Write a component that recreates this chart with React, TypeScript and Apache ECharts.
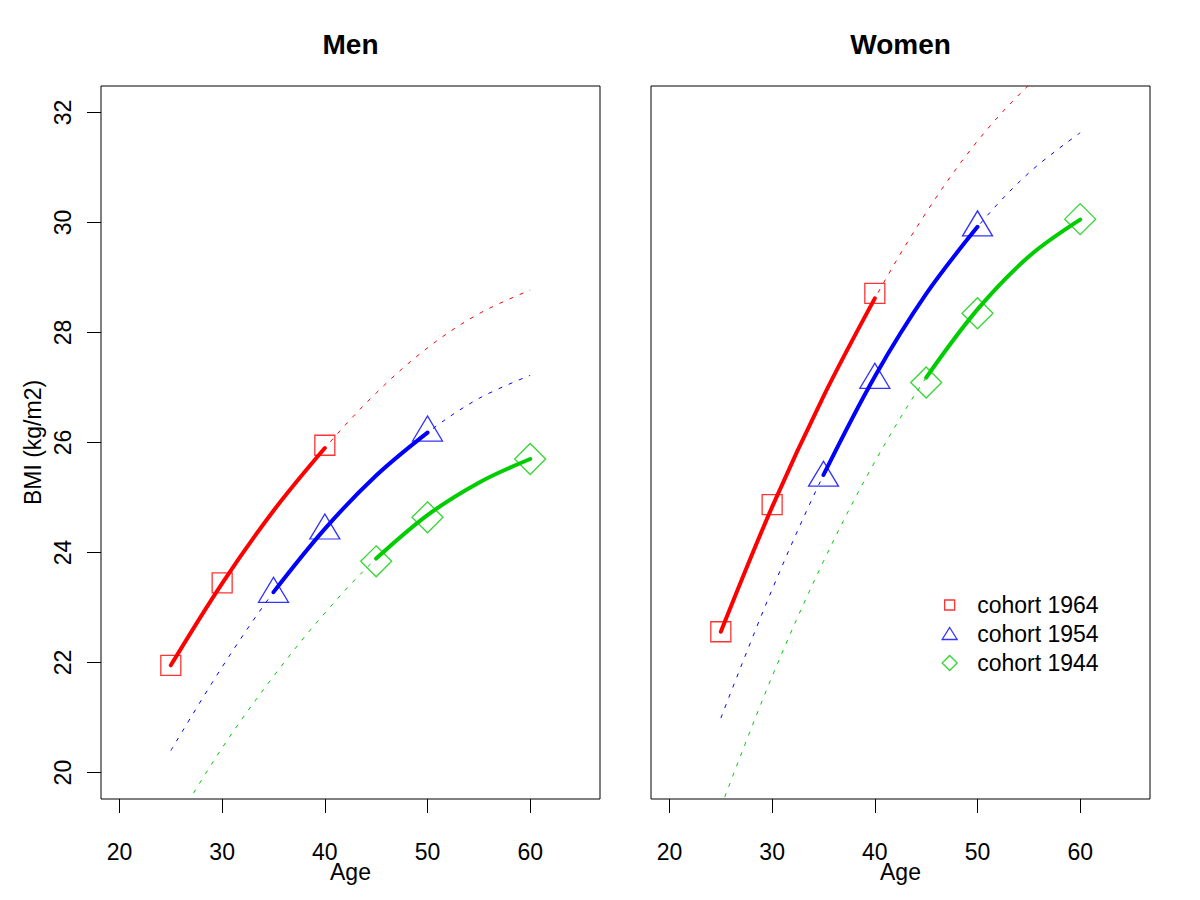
import React, { useEffect, useRef } from "react";
import * as echarts from "echarts";

// ---- data ----
const AGES = [25, 30, 35, 40, 45, 50, 55, 60];
const COHORTS = ["cohort 1964", "cohort 1954", "cohort 1944"];
const PANELS = ["Men", "Women"];

const X_TICKS = [20, 30, 40, 50, 60];
const Y_TICKS = [20, 22, 24, 26, 28, 30, 32];

// observed ages per cohort
const OBS_AGES_1964 = [25, 30, 40];
const OBS_AGES_1954 = [35, 40, 50];
const OBS_AGES_1944 = [45, 50, 60];

// observed BMI
const MEN_OBS_1964 = [21.95, 23.45, 25.95];
const MEN_OBS_1954 = [23.25, 24.4, 26.18];
const MEN_OBS_1944 = [23.84, 24.64, 25.7];
const WOMEN_OBS_1964 = [22.56, 24.87, 28.71];
const WOMEN_OBS_1954 = [25.36, 27.14, 29.91];
const WOMEN_OBS_1944 = [27.09, 28.35, 30.06];

// fitted curves at AGES
const MEN_FIT_1964 = [21.95, 23.44, 24.76, 25.9, 26.9, 27.72, 28.34, 28.77];
const MEN_FIT_1954 = [20.4, 21.92, 23.28, 24.43, 25.4, 26.18, 26.8, 27.22];
const MEN_FIT_1944 = [18.95, 20.45, 21.75, 22.9, 23.89, 24.68, 25.27, 25.7];
const WOMEN_FIT_1964 = [22.56, 24.83, 26.84, 28.62, 30.18, 31.48, 32.5, 33.31];
const WOMEN_FIT_1954 = [20.99, 23.33, 25.41, 27.2, 28.7, 29.92, 30.9, 31.63];
const WOMEN_FIT_1944 = [19.37, 21.75, 23.84, 25.65, 27.18, 28.42, 29.38, 30.05];

// ---- styling ----
const FONT = "'Liberation Sans', Arial, Helvetica, sans-serif";
const COLORS = ["#FF0000", "#0000FF", "#00CD00"];
const SYMBOLS = ["rect", "triangle", "diamond"];
const SYMBOL_SIZES = [
  [20, 20],
  [30, 25],
  [31, 31],
];
const SYMBOL_OFFSETS = [
  [0, 0],
  [0, -4],
  [0, 0],
];
const LEGEND_ICONS = [
  "path://M0,0L0,0M2.5,2.5L12.5,2.5L12.5,12.5L2.5,12.5ZM15,15L15,15",
  "path://M0,0L0,0M7.5,1L15,13L0,13ZM15,15L15,15",
  "path://M7.5,0L15,7.5L7.5,15L0,7.5Z",
];

const OBS_AGES = [OBS_AGES_1964, OBS_AGES_1954, OBS_AGES_1944];
const OBS = [
  [MEN_OBS_1964, MEN_OBS_1954, MEN_OBS_1944],
  [WOMEN_OBS_1964, WOMEN_OBS_1954, WOMEN_OBS_1944],
];
const FITS = [
  [MEN_FIT_1964, MEN_FIT_1954, MEN_FIT_1944],
  [WOMEN_FIT_1964, WOMEN_FIT_1954, WOMEN_FIT_1944],
];

const X_MIN = 18.2;
const X_MAX = 66.8;
const Y_MIN = 19.52;
const Y_MAX = 32.48;

export default function App() {
  const ref = useRef<HTMLDivElement>(null);

  useEffect(() => {
    document.body.style.margin = "0";
    const chart = echarts.init(ref.current!, undefined, { renderer: "svg" });

    const gridLefts = [101, 651];

    const series: any[] = [];
    PANELS.forEach((_, p) => {
      COHORTS.forEach((name, c) => {
        const fit = FITS[p][c];
        const obsAges = OBS_AGES[c];
        const lo = Math.min(...obsAges);
        const hi = Math.max(...obsAges);
        series.push({
          type: "line",
          name: name + " fit " + p,
          xAxisIndex: p,
          yAxisIndex: p,
          data: AGES.map((a, i) => [a, fit[i]]),
          smooth: 0.35,
          showSymbol: false,
          silent: true,
          clip: true,
          lineStyle: { color: COLORS[c], width: 1, type: [4, 7] },
          z: 2,
        });
        series.push({
          type: "line",
          name: name + " solid " + p,
          xAxisIndex: p,
          yAxisIndex: p,
          data: AGES.map((a, i) => [a, fit[i]]).filter((d) => d[0] >= lo && d[0] <= hi),
          smooth: 0.35,
          showSymbol: false,
          silent: true,
          clip: true,
          lineStyle: { color: COLORS[c], width: 4, cap: "round" },
          z: 3,
        });
        series.push({
          type: "scatter",
          name,
          xAxisIndex: p,
          yAxisIndex: p,
          data: obsAges.map((a, i) => [a, OBS[p][c][i]]),
          symbol: SYMBOLS[c],
          symbolSize: SYMBOL_SIZES[c],
          symbolOffset: SYMBOL_OFFSETS[c],
          itemStyle: { color: "transparent", borderColor: COLORS[c], borderWidth: 1.3 },
          z: 4,
        });
      });
    });

    const option: any = {
      animation: false,
      backgroundColor: "#fff",
      textStyle: { fontFamily: FONT },
      grid: gridLefts.map((l) => ({
        left: l,
        top: 86,
        width: 499,
        height: 713,
        show: true,
        borderColor: "#000",
        borderWidth: 1,
        backgroundColor: "transparent",
      })),
      xAxis: PANELS.map((_, p) => ({
        type: "value",
        gridIndex: p,
        min: X_MIN,
        max: X_MAX,
        name: "Age",
        nameLocation: "middle",
        nameGap: 61,
        nameMoveOverlap: false,
        nameTextStyle: { fontSize: 23, color: "#000", fontFamily: FONT },
        axisLine: { show: false },
        splitLine: { show: false },
        axisTick: {
          show: true,
          inside: false,
          length: 14,
          lineStyle: { color: "#000", width: 1 },
          customValues: X_TICKS,
        },
        axisLabel: {
          show: true,
          margin: 41,
          fontSize: 23,
          color: "#000",
          fontFamily: FONT,
          customValues: X_TICKS,
        },
      })),
      yAxis: PANELS.map((_, p) => ({
        type: "value",
        gridIndex: p,
        min: Y_MIN,
        max: Y_MAX,
        name: p === 0 ? "BMI (kg/m2)" : "",
        nameLocation: "middle",
        nameGap: 57,
        nameRotate: 90,
        nameMoveOverlap: false,
        nameTextStyle: { fontSize: 23, color: "#000", fontFamily: FONT },
        axisLine: { show: false },
        splitLine: { show: false },
        axisTick: {
          show: p === 0,
          inside: false,
          length: 14,
          lineStyle: { color: "#000", width: 1 },
          customValues: Y_TICKS,
        },
        axisLabel: {
          show: p === 0,
          rotate: 90,
          margin: 27,
          fontSize: 23,
          color: "#000",
          fontFamily: FONT,
          customValues: Y_TICKS,
        },
      })),
      legend: {
        show: true,
        selectedMode: false,
        orient: "vertical",
        left: 936.5,
        top: 588.5,
        itemWidth: 15,
        itemHeight: 15,
        itemGap: 6,
        symbolKeepAspect: true,
        textStyle: { fontSize: 23, color: "#000", fontFamily: FONT, padding: [0, 0, 0, 15] },
        data: COHORTS.map((n, i) => ({
          name: n,
          icon: LEGEND_ICONS[i],
          itemStyle: { color: "transparent", borderColor: COLORS[i], borderWidth: 1.3 },
        })),
      },
      graphic: PANELS.map((t, p) => ({
        type: "text",
        x: gridLefts[p] + 249.5,
        y: 44,
        style: {
          text: t,
          fontSize: 28,
          fontWeight: "bold",
          fontFamily: FONT,
          fill: "#000",
          align: "center",
          verticalAlign: "middle",
        },
      })),
      series,
    };

    chart.setOption(option);
    return () => chart.dispose();
  }, []);

  return <div ref={ref} style={{ width: 1200, height: 900 }} />;
}
